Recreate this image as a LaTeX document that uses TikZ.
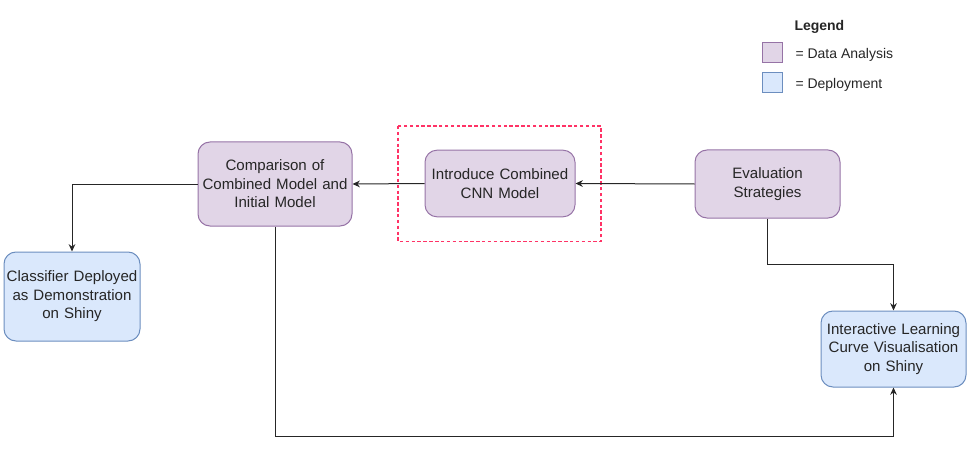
\documentclass[tikz,border=0pt]{standalone}
\usepackage{fontspec}
\setmainfont{Liberation Sans}
\usetikzlibrary{arrows.meta}

\definecolor{anafill}{RGB}{225,213,231}
\definecolor{anadraw}{RGB}{150,115,166}
\definecolor{depfill}{RGB}{218,232,252}
\definecolor{depdraw}{RGB}{108,142,191}
\definecolor{focusred}{RGB}{255,51,102}

\tikzset{every picture/.style={line width=0.75pt}}
\tikzset{
  stagebox/.style={rectangle, rounded corners=9pt, align=center, inner sep=0pt,
    font=\fontsize{11.3}{13.9}\selectfont, text=black!85},
  anabox/.style={stagebox, fill=anafill, draw=anadraw},
  depbox/.style={stagebox, fill=depfill, draw=depdraw},
  keybox/.style={rectangle, minimum width=15pt, minimum height=15pt, inner sep=0pt},
  keytext/.style={anchor=west, inner sep=0pt, font=\fontsize{10.5}{12.6}\selectfont, text=black!85},
  flow/.style={-{Stealth[length=5.5pt,width=5pt]}, black!85}
}

\begin{document}
\begin{tikzpicture}[x=0.75pt,y=0.75pt,yscale=-1,xscale=1]
\useasboundingbox (0,0) rectangle (979,460);

% Legend
\node [keytext, font=\fontsize{10.5}{12.6}\selectfont\bfseries] (legendtitle) at (794,27) {Legend};
\node [keybox, fill=anafill, draw=anadraw] (keyana) at (772.5,53) {};
\node [keybox, fill=depfill, draw=depdraw] (keydep) at (772.5,82.5) {};
\node [keytext] (keyanatext) at (795,55) {= Data Analysis};
\node [keytext] (keydeptext) at (795,84.5) {= Deployment};

% Dashed highlight
\draw [focusred, line width=0.9pt, dash pattern=on 2.6pt off 1.8pt] (398,126) rectangle (601,241.5);

% Stages
\node [anabox, minimum width=112.5pt, minimum height=50pt, text width=108pt] (intro) at (500,183.5) {Introduce Combined\\CNN Model};
\node [anabox, minimum width=115.5pt, minimum height=63pt, text width=112pt] (comp) at (275,184) {Comparison of\\Combined Model and\\Initial Model};
\node [anabox, minimum width=108.75pt, minimum height=51pt, text width=105pt] (eval) at (767.5,184) {Evaluation\\Strategies};
\node [depbox, minimum width=102pt, minimum height=66.75pt, text width=100pt] (clf) at (72,296.5) {Classifier Deployed\\as Demonstration\\on Shiny};
\node [depbox, minimum width=108.75pt, minimum height=57pt, text width=105pt] (inter) at (893.5,349) {Interactive Learning\\Curve Visualisation\\on Shiny};

% Connectors
\draw [flow] (eval.west) -- (intro.east);
\draw [flow] (intro.west) -- (comp.east);
\draw [flow] (comp.west) -| (clf.north);
\draw [flow] (eval.south) -- ++(0,46) -| (inter.north);
\draw [flow] (comp.south) -- ++(0,210) -| (inter.south);
\end{tikzpicture}
\end{document}
